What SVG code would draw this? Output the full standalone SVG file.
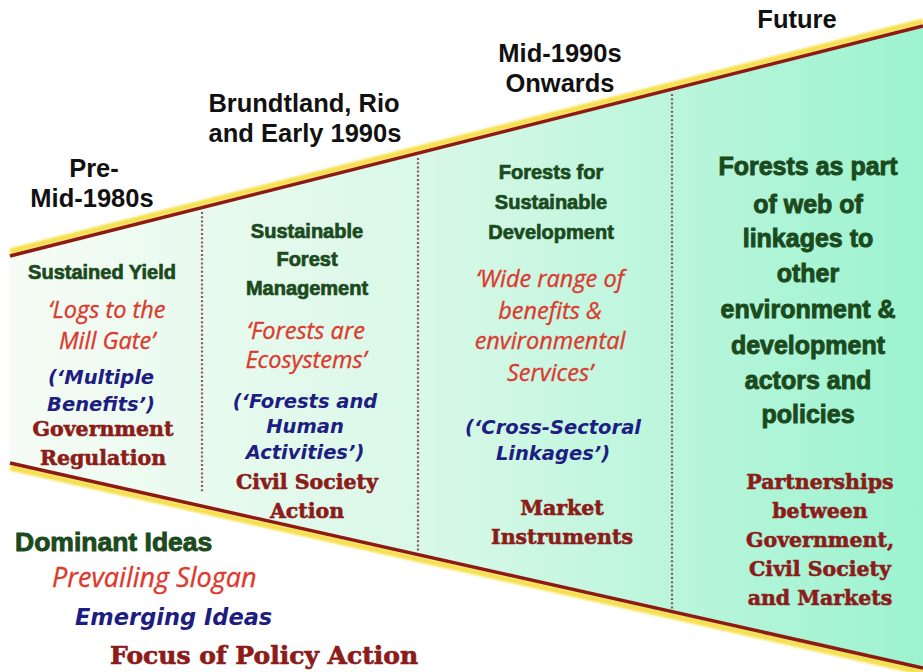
<svg xmlns="http://www.w3.org/2000/svg" width="923" height="672" viewBox="0 0 923 672">
<defs>
<linearGradient id="wedgeFill" x1="10" y1="0" x2="923" y2="0" gradientUnits="userSpaceOnUse">
<stop offset="0" stop-color="#f6fcf5"/>
<stop offset="0.45" stop-color="#d9f8e8"/>
<stop offset="1" stop-color="#9cf3d0"/>
</linearGradient>
<filter id="soft" x="-5%" y="-50%" width="110%" height="200%"><feGaussianBlur stdDeviation="1.1"/></filter>
<style>
.hdr{font-family:"Liberation Sans",Arial,sans-serif;font-weight:bold;font-size:25.5px;fill:#111;text-anchor:middle}
.dom{font-family:"Liberation Sans",Arial,sans-serif;font-weight:bold;font-size:20px;fill:#1b4a1d;stroke:#1b4a1d;stroke-width:0.7;text-anchor:middle}
.dom4{font-family:"Liberation Sans",Arial,sans-serif;font-weight:bold;font-size:25px;fill:#1b4a1d;stroke:#1b4a1d;stroke-width:0.9;text-anchor:middle}
.slo{font-family:"Open Sans",sans-serif;font-style:italic;font-size:23.5px;fill:#dc3a2e;stroke:#dc3a2e;stroke-width:0.35;text-anchor:middle}
.emg{font-family:"DejaVu Sans",sans-serif;font-weight:bold;font-style:italic;font-size:19.5px;fill:#1d1d82;text-anchor:middle}
.pol{font-family:"DejaVu Serif","Liberation Serif",serif;font-weight:bold;font-size:20.5px;fill:#8c1c1a;stroke:#8c1c1a;stroke-width:0.6;text-anchor:middle}
.div{stroke:#8a5a5a;stroke-width:2.2;stroke-dasharray:2 2.2;fill:none}
</style>
</defs>
<rect width="923" height="672" fill="#ffffff"/>
<g id="wedge">
<polygon points="10,256 923,26 923,672 10,463" fill="url(#wedgeFill)"/>
<line x1="10" y1="251.5" x2="923" y2="21.5" stroke="#f6e04f" stroke-width="6" filter="url(#soft)"/>
<line x1="10" y1="256" x2="923" y2="26" stroke="#8e1a12" stroke-width="3.5"/>
<line x1="10" y1="467.5" x2="923" y2="672.5" stroke="#f6e04f" stroke-width="6" filter="url(#soft)"/>
<line x1="10" y1="463" x2="923" y2="668" stroke="#8e1a12" stroke-width="3.5"/>
</g>
<g id="dividers">
<line class="div" x1="202" y1="212" x2="202" y2="492"/>
<line class="div" x1="418" y1="158" x2="418" y2="552"/>
<line class="div" x1="672" y1="94" x2="672" y2="609"/>
</g>
<g id="headers">
<text class="hdr" x="94" y="177">Pre-</text>
<text class="hdr" x="92" y="207">Mid-1980s</text>
<text class="hdr" x="304" y="112">Brundtland, Rio</text>
<text class="hdr" x="305" y="142">and Early 1990s</text>
<text class="hdr" x="560" y="62">Mid-1990s</text>
<text class="hdr" x="560" y="92">Onwards</text>
<text class="hdr" x="797" y="28">Future</text>
</g>
<g id="col1">
<text class="dom" x="102" y="279">Sustained Yield</text>
<text class="slo" x="107" y="318">‘Logs to the</text>
<text class="slo" x="107" y="349">Mill Gate’</text>
<text class="emg" x="101" y="384">(‘Multiple</text>
<text class="emg" x="101" y="411">Benefits’)</text>
<text class="pol" x="103" y="436">Government</text>
<text class="pol" x="103" y="465">Regulation</text>
</g>
<g id="col2">
<text class="dom" x="307" y="238">Sustainable</text>
<text class="dom" x="307" y="266">Forest</text>
<text class="dom" x="307" y="295">Management</text>
<text class="slo" x="306" y="339">‘Forests are</text>
<text class="slo" x="306" y="368">Ecosystems’</text>
<text class="emg" x="305" y="408">(‘Forests and</text>
<text class="emg" x="305" y="433">Human</text>
<text class="emg" x="305" y="459">Activities’)</text>
<text class="pol" x="307" y="489">Civil Society</text>
<text class="pol" x="307" y="518">Action</text>
</g>
<g id="col3">
<text class="dom" x="551" y="179">Forests for</text>
<text class="dom" x="551" y="209">Sustainable</text>
<text class="dom" x="551" y="239">Development</text>
<text class="slo" x="550" y="287">‘Wide range of</text>
<text class="slo" x="550" y="319">benefits &amp;</text>
<text class="slo" x="550" y="349">environmental</text>
<text class="slo" x="550" y="381">Services’</text>
<text class="emg" x="553" y="434">(‘Cross-Sectoral</text>
<text class="emg" x="553" y="460">Linkages’)</text>
<text class="pol" x="562" y="515">Market</text>
<text class="pol" x="562" y="544">Instruments</text>
</g>
<g id="col4">
<text class="dom4" x="808" y="175">Forests as part</text>
<text class="dom4" x="808" y="213">of web of</text>
<text class="dom4" x="808" y="247">linkages to</text>
<text class="dom4" x="808" y="282">other</text>
<text class="dom4" x="808" y="318">environment &amp;</text>
<text class="dom4" x="808" y="354">development</text>
<text class="dom4" x="808" y="389">actors and</text>
<text class="dom4" x="808" y="423">policies</text>
<text class="pol" x="820" y="489">Partnerships</text>
<text class="pol" x="820" y="518">between</text>
<text class="pol" x="820" y="547">Government,</text>
<text class="pol" x="820" y="576">Civil Society</text>
<text class="pol" x="820" y="605">and Markets</text>
</g>
<g id="legend">
<text class="dom" x="15" y="551" style="font-size:26.5px;stroke-width:0.9;text-anchor:start">Dominant Ideas</text>
<text class="slo" x="52" y="587" style="font-size:27px;text-anchor:start">Prevailing Slogan</text>
<text class="emg" x="75" y="625" style="font-size:22.5px;text-anchor:start">Emerging Ideas</text>
<text class="pol" x="110" y="664" style="font-size:25px;stroke-width:0.7;text-anchor:start">Focus of Policy Action</text>
</g>
</svg>
